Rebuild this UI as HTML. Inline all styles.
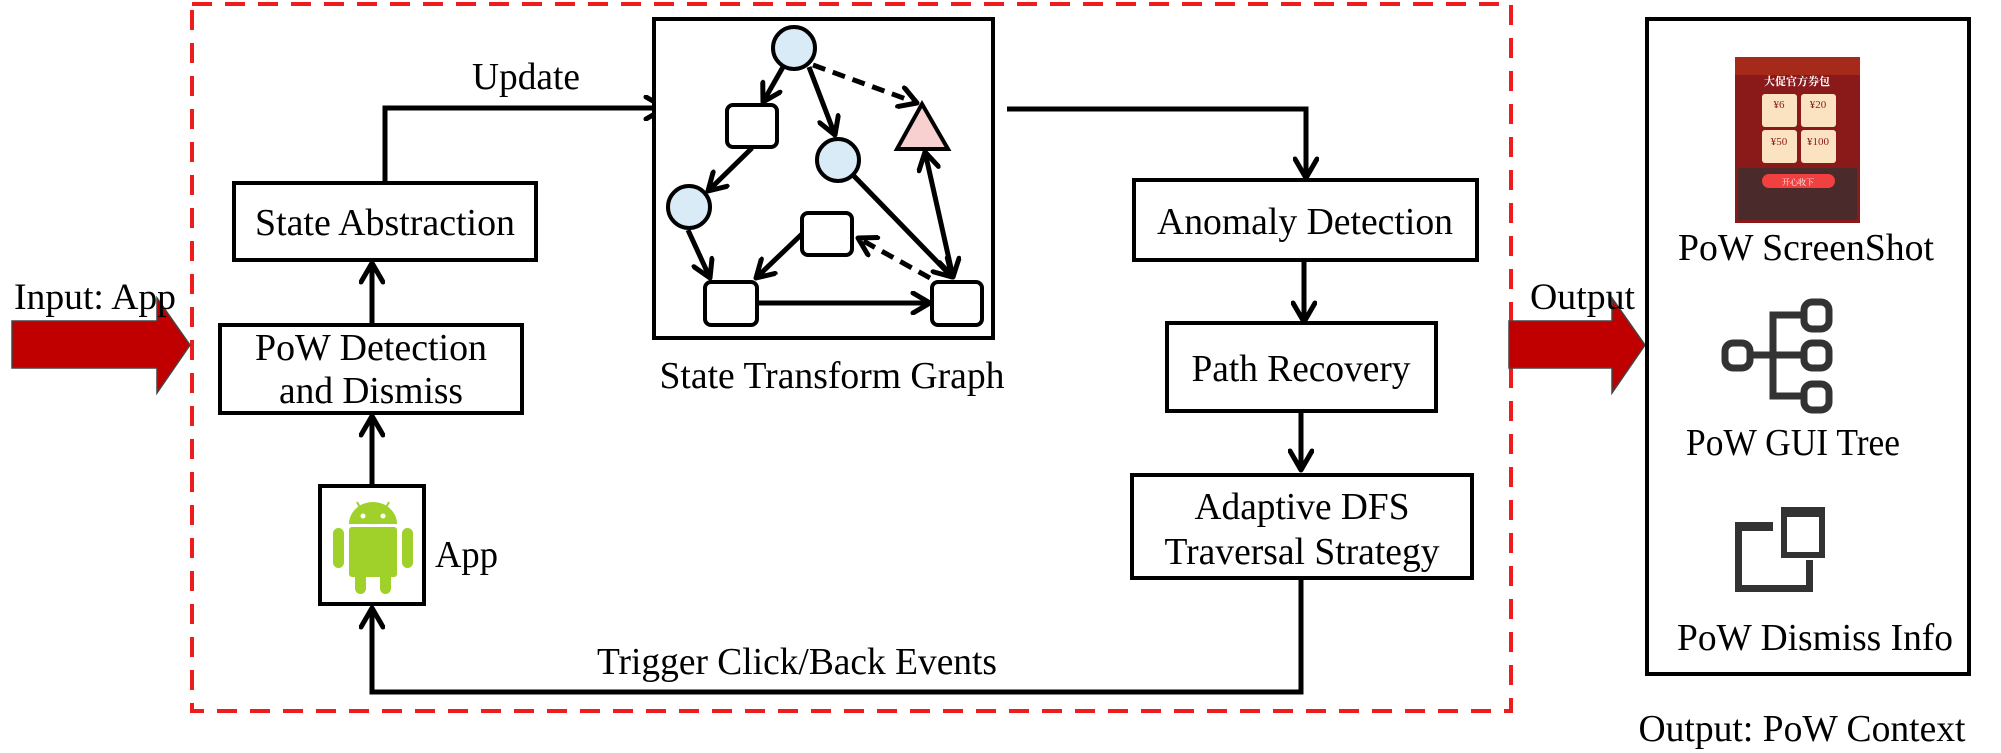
<!DOCTYPE html>
<html><head><meta charset="utf-8"><style>
html,body{margin:0;padding:0;background:#fff;}
svg{display:block;}
text{font-family:"Liberation Serif","Noto Serif CJK SC",serif;fill:#000;}
</style></head><body>
<svg width="2001" height="753" viewBox="0 0 2001 753" xmlns="http://www.w3.org/2000/svg">
<defs>
<marker id="a" viewBox="0 0 24 24" refX="21" refY="12" markerWidth="24" markerHeight="24" markerUnits="userSpaceOnUse" orient="auto-start-reverse">
<polyline points="4,2 21,12 4,22" fill="none" stroke="#000" stroke-width="5" stroke-linecap="round" stroke-linejoin="round"/>
</marker>
<marker id="b" viewBox="0 0 26 26" refX="23" refY="13" markerWidth="26" markerHeight="26" markerUnits="userSpaceOnUse" orient="auto-start-reverse">
<polyline points="4,2 23,13 4,24" fill="none" stroke="#000" stroke-width="5" stroke-linecap="round" stroke-linejoin="round"/>
</marker>
</defs>

<rect x="192" y="4" width="1319" height="707" fill="none" stroke="#ee1c1c" stroke-width="4" stroke-dasharray="20,13"/>

<polygon points="12,321 157,321 157,298 190,345 157,393 157,368 12,368" fill="#c00000" stroke="#444" stroke-width="1.5"/>
<text x="14" y="309" font-size="37" textLength="162" lengthAdjust="spacingAndGlyphs">Input: App</text>

<rect x="234" y="183" width="302" height="77" fill="#fff" stroke="#000" stroke-width="4"/>
<text x="385" y="235" font-size="38" text-anchor="middle" textLength="260" lengthAdjust="spacingAndGlyphs">State Abstraction</text>
<rect x="220" y="325" width="302" height="88" fill="#fff" stroke="#000" stroke-width="4"/>
<text x="371" y="360" font-size="38" text-anchor="middle" textLength="232" lengthAdjust="spacingAndGlyphs">PoW Detection</text>
<text x="371" y="403" font-size="38" text-anchor="middle" textLength="184" lengthAdjust="spacingAndGlyphs">and Dismiss</text>
<rect x="320" y="486" width="104" height="118" fill="#fff" stroke="#000" stroke-width="4"/>
<text x="435" y="567" font-size="38" textLength="63" lengthAdjust="spacingAndGlyphs">App</text>

<g fill="#9fd12a">
<path d="M349,524 a24,22 0 0 1 48,0 z"/>
<rect x="349" y="527" width="48" height="50" rx="3"/>
<rect x="333" y="528" width="11" height="40" rx="5.5"/>
<rect x="402" y="528" width="11" height="40" rx="5.5"/>
<rect x="355" y="570" width="11" height="24" rx="5.5"/>
<rect x="380" y="570" width="11" height="24" rx="5.5"/>
<line x1="357" y1="502" x2="362" y2="511" stroke="#9fd12a" stroke-width="2"/>
<line x1="389" y1="502" x2="384" y2="511" stroke="#9fd12a" stroke-width="2"/>
</g>
<circle cx="363" cy="516" r="2.5" fill="#fff"/><circle cx="383" cy="516" r="2.5" fill="#fff"/>

<line x1="372" y1="484" x2="372" y2="416" stroke="#000" stroke-width="5" marker-end="url(#b)"/>
<line x1="372" y1="323" x2="372" y2="263" stroke="#000" stroke-width="5" marker-end="url(#b)"/>
<polyline points="385,181 385,108 665,108" fill="none" stroke="#000" stroke-width="5" marker-end="url(#b)"/>
<text x="526" y="89" font-size="38" text-anchor="middle" textLength="108" lengthAdjust="spacingAndGlyphs">Update</text>

<rect x="654" y="19" width="339" height="319" fill="#fff" stroke="#000" stroke-width="4"/>
<g stroke="#000" stroke-width="5" fill="none">
<line x1="783" y1="67" x2="763" y2="102" marker-end="url(#a)"/>
<line x1="809" y1="67" x2="835" y2="135" marker-end="url(#a)"/>
<line x1="813" y1="65" x2="917" y2="103" stroke-dasharray="13,8" marker-end="url(#a)"/>
<line x1="752" y1="148" x2="708" y2="191" marker-end="url(#a)"/>
<line x1="688" y1="230" x2="710" y2="278" marker-end="url(#a)"/>
<line x1="803" y1="233" x2="756" y2="278" marker-end="url(#a)"/>
<line x1="853" y1="175" x2="952" y2="277" marker-end="url(#a)"/>
<line x1="930" y1="278" x2="858" y2="238" stroke-dasharray="13,8" marker-end="url(#a)"/>
<line x1="925" y1="152" x2="953" y2="277" marker-start="url(#a)" marker-end="url(#a)"/>
<line x1="757" y1="303" x2="930" y2="303" marker-end="url(#a)"/>
</g>
<g stroke="#000" stroke-width="4">
<circle cx="794" cy="48" r="21" fill="#d9ebf6"/>
<circle cx="838" cy="160" r="21" fill="#d9ebf6"/>
<circle cx="689" cy="207" r="21" fill="#d9ebf6"/>
<rect x="727" y="105" width="50" height="42" rx="6" fill="#fff"/>
<rect x="802" y="213" width="50" height="42" rx="6" fill="#fff"/>
<rect x="705" y="282" width="52" height="43" rx="6" fill="#fff"/>
<rect x="932" y="282" width="50" height="43" rx="6" fill="#fff"/>
<polygon points="922,104 948,149 897,149" fill="#f9d0d0"/>
</g>
<text x="832" y="388" font-size="38" text-anchor="middle" textLength="345" lengthAdjust="spacingAndGlyphs">State Transform Graph</text>

<polyline points="1007,109 1306,109 1306,178" fill="none" stroke="#000" stroke-width="5" marker-end="url(#b)"/>
<rect x="1134" y="180" width="343" height="80" fill="#fff" stroke="#000" stroke-width="4"/>
<text x="1305" y="234" font-size="38" text-anchor="middle" textLength="296" lengthAdjust="spacingAndGlyphs">Anomaly Detection</text>
<line x1="1304" y1="262" x2="1304" y2="322" stroke="#000" stroke-width="5" marker-end="url(#b)"/>
<rect x="1167" y="323" width="269" height="88" fill="#fff" stroke="#000" stroke-width="4"/>
<text x="1301" y="381" font-size="38" text-anchor="middle" textLength="219" lengthAdjust="spacingAndGlyphs">Path Recovery</text>
<line x1="1301" y1="413" x2="1301" y2="470" stroke="#000" stroke-width="5" marker-end="url(#b)"/>
<rect x="1132" y="475" width="340" height="103" fill="#fff" stroke="#000" stroke-width="4"/>
<text x="1302" y="519" font-size="38" text-anchor="middle" textLength="215" lengthAdjust="spacingAndGlyphs">Adaptive DFS</text>
<text x="1302" y="564" font-size="38" text-anchor="middle" textLength="275" lengthAdjust="spacingAndGlyphs">Traversal Strategy</text>

<polyline points="1301,580 1301,692 372,692 372,608" fill="none" stroke="#000" stroke-width="5" marker-end="url(#b)"/>
<text x="797" y="674" font-size="38" text-anchor="middle" textLength="400" lengthAdjust="spacingAndGlyphs">Trigger Click/Back Events</text>

<polygon points="1509,321 1612,321 1612,298 1645,345 1612,393 1612,368 1509,368" fill="#c00000" stroke="#444" stroke-width="1.5"/>
<text x="1530" y="309" font-size="37" textLength="105" lengthAdjust="spacingAndGlyphs">Output</text>

<rect x="1647" y="19" width="322" height="655" fill="#fff" stroke="#000" stroke-width="4"/>

<rect x="1735" y="57" width="125" height="166" fill="#8a1a1a"/>
<rect x="1735" y="57" width="125" height="18" fill="#a52a1a"/>
<rect x="1738" y="168" width="119" height="52" fill="#4a2a2a"/>
<text x="1797" y="85" font-size="11" text-anchor="middle" style="fill:#fff;font-weight:bold">大促官方券包</text>
<g fill="#fbe3c1">
<rect x="1762" y="94" width="35" height="33" rx="3"/><rect x="1801" y="94" width="35" height="33" rx="3"/>
<rect x="1762" y="130" width="35" height="33" rx="3"/><rect x="1801" y="130" width="35" height="33" rx="3"/>
</g>
<g font-size="11" text-anchor="middle">
<text x="1779" y="108" style="fill:#8a1a1a">¥6</text><text x="1818" y="108" style="fill:#8a1a1a">¥20</text>
<text x="1779" y="145" style="fill:#8a1a1a">¥50</text><text x="1818" y="145" style="fill:#8a1a1a">¥100</text>
</g>
<rect x="1762" y="174" width="73" height="14" rx="7" fill="#f04040"/>
<text x="1798" y="185" font-size="8" text-anchor="middle" style="fill:#fff">开心收下</text>
<text x="1806" y="260" font-size="38" text-anchor="middle" textLength="256" lengthAdjust="spacingAndGlyphs">PoW ScreenShot</text>

<g fill="none" stroke="#333" stroke-width="7">
<rect x="1725" y="343" width="25" height="25" rx="8"/>
<rect x="1804" y="302" width="25" height="27" rx="8"/>
<rect x="1804" y="343" width="25" height="25" rx="8"/>
<rect x="1804" y="384" width="25" height="26" rx="8"/>
<polyline points="1801,315 1773,315 1773,396 1801,396"/>
<line x1="1750" y1="355" x2="1801" y2="355"/>
</g>
<text x="1793" y="455" font-size="38" text-anchor="middle" textLength="214" lengthAdjust="spacingAndGlyphs">PoW GUI Tree</text>

<g fill="#333">
<rect x="1735" y="522" width="38" height="9"/>
<rect x="1735" y="522" width="7" height="70"/>
<rect x="1735" y="585" width="78" height="7"/>
<rect x="1806" y="560" width="7" height="32"/>
<rect x="1781" y="507" width="44" height="10"/>
<rect x="1781" y="507" width="6" height="51"/>
<rect x="1819" y="507" width="6" height="51"/>
<rect x="1781" y="552" width="44" height="6"/>
</g>
<text x="1815" y="650" font-size="38" text-anchor="middle" textLength="276" lengthAdjust="spacingAndGlyphs">PoW Dismiss Info</text>

<text x="1802" y="741" font-size="38" text-anchor="middle" textLength="327" lengthAdjust="spacingAndGlyphs">Output: PoW Context</text>
</svg>
</body></html>
